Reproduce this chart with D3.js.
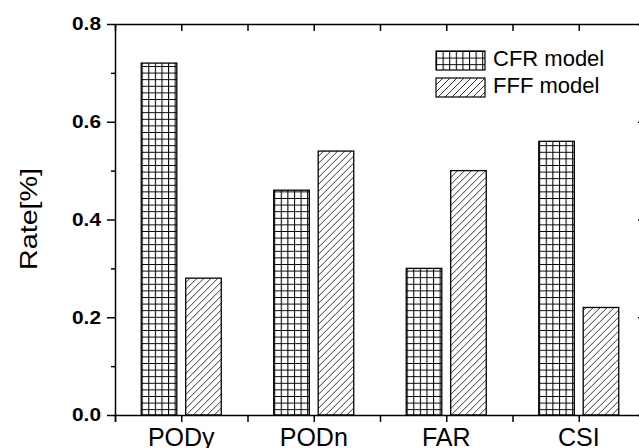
<!DOCTYPE html>
<html lang="en">
<head>
<meta charset="UTF-8">
<title>Rate by index</title>
<script src="https://d3js.org/d3.v7.min.js"></script>
<style>
  body { margin: 0; background: #fff; }
  svg { display: block; font-family: "Liberation Sans", Arial, sans-serif; }
</style>
</head>
<body>
<div id="chart"></div>
<script>
    // data
    const categories = ["PODy", "PODn", "FAR", "CSI"];
    const seriesNames = ["CFR model", "FFF model"];
    const cfrValues = [0.72, 0.46, 0.30, 0.56];
    const fffValues = [0.28, 0.54, 0.50, 0.22];
    const yMajorTicks = [0.0, 0.2, 0.4, 0.6, 0.8];
    const yMinorTicks = [0.1, 0.3, 0.5, 0.7];

    const width = 639, height = 448;
    const plot = { left: 115, right: 645, top: 24, bottom: 415 };
    const font = "Liberation Sans, Arial, sans-serif";

    const svg = d3.select("#chart").append("svg")
        .attr("width", width)
        .attr("height", height);

    // hatch patterns
    const defs = svg.append("defs");
    const grid = defs.append("pattern")
        .attr("id", "grid")
        .attr("patternUnits", "userSpaceOnUse")
        .attr("width", 6.6).attr("height", 6.6);
    grid.append("rect").attr("width", 6.6).attr("height", 6.6).attr("fill", "#fff");
    grid.append("path")
        .attr("d", "M0,0.5H6.6M0.5,0V6.6")
        .attr("stroke", "#000").attr("stroke-width", 1.1);

    const diag = defs.append("pattern")
        .attr("id", "diag")
        .attr("patternUnits", "userSpaceOnUse")
        .attr("width", 7).attr("height", 7);
    diag.append("rect").attr("width", 7).attr("height", 7).attr("fill", "#fff");
    diag.append("path")
        .attr("d", "M-1,8L8,-1M-1,1L1,-1M6,8L8,6")
        .attr("stroke", "#000").attr("stroke-width", 0.8);

    const fills = ["url(#grid)", "url(#diag)"];

    const x = d3.scaleBand()
        .domain(categories)
        .range([plot.left, plot.right])
        .padding(0);

    const xSub = d3.scaleBand()
        .domain(seriesNames)
        .range([-40, 40])
        .paddingInner(0.2);

    const xTicks = d3.scaleLinear()
        .domain([0, categories.length])
        .range([plot.left, plot.right]);

    const y = d3.scaleLinear()
        .domain([0, 0.8])
        .range([plot.bottom, plot.top]);

    const rows = categories.map((c, i) => ({ cat: c, vals: [cfrValues[i], fffValues[i]] }));

    // bars
    const groups = svg.append("g").selectAll("g")
        .data(rows)
        .join("g")
        .attr("transform", d => `translate(${x(d.cat) + x.bandwidth() / 2},0)`);

    groups.selectAll("rect")
        .data(d => d.vals.map((v, i) => ({ name: seriesNames[i], v: v, i: i })))
        .join("rect")
        .attr("x", d => xSub(d.name))
        .attr("width", xSub.bandwidth())
        .attr("y", d => y(d.v))
        .attr("height", d => y(0) - y(d.v))
        .attr("fill", d => fills[d.i])
        .attr("stroke", "#000")
        .attr("stroke-width", 1.3);

    const halfSteps = d3.range(0, categories.length + 0.01, 0.5);

    // bottom axis ticks + labels
    svg.append("g")
        .attr("transform", `translate(0,${plot.bottom})`)
        .call(d3.axisBottom(xTicks).tickValues(halfSteps).tickSize(7).tickFormat(""))
        .call(g => g.selectAll("line,path").attr("stroke-width", 1.5));

    svg.append("g")
        .attr("transform", `translate(0,${plot.bottom})`)
        .call(d3.axisBottom(x).tickSize(0).tickPadding(13))
        .call(g => g.select(".domain").remove())
        .call(g => g.attr("font-size", 25).attr("font-family", font));

    // top axis, ticks inward
    svg.append("g")
        .attr("transform", `translate(0,${plot.top})`)
        .call(d3.axisBottom(xTicks).tickValues(halfSteps).tickSize(7).tickSizeOuter(0).tickFormat(""))
        .call(g => g.selectAll("line,path").attr("stroke-width", 1.5));

    // left axis
    svg.append("g")
        .attr("transform", `translate(${plot.left},0)`)
        .call(d3.axisLeft(y).tickValues(yMajorTicks).tickSize(8).tickSizeOuter(0).tickPadding(6).tickFormat(d3.format(".1f")))
        .call(g => g.selectAll("line,path").attr("stroke-width", 1.5))
        .call(g => g.attr("font-size", 18).attr("font-weight", "bold").attr("font-family", font))
        .call(g => g.selectAll("text")
            .attr("textLength", 29)
            .attr("lengthAdjust", "spacingAndGlyphs"));

    svg.append("g")
        .attr("transform", `translate(${plot.left},0)`)
        .call(d3.axisLeft(y).tickValues(yMinorTicks).tickSize(4).tickFormat(""))
        .call(g => g.select(".domain").remove())
        .call(g => g.selectAll("line").attr("stroke-width", 1.5));

    // right axis, ticks inward
    svg.append("g")
        .attr("transform", `translate(${plot.right},0)`)
        .call(d3.axisLeft(y).tickValues(yMajorTicks).tickSize(7).tickSizeOuter(0).tickFormat(""))
        .call(g => g.selectAll("line,path").attr("stroke-width", 1.5));

    // y title
    svg.append("text")
        .attr("transform", "translate(37,219) rotate(-90)")
        .attr("text-anchor", "middle")
        .attr("font-size", 24)
        .attr("font-family", font)
        .attr("textLength", 102)
        .attr("lengthAdjust", "spacingAndGlyphs")
        .text("Rate[%]");

    // legend
    const legend = svg.append("g")
        .attr("transform", "translate(436,51)");

    const items = legend.selectAll("g")
        .data(seriesNames)
        .join("g")
        .attr("transform", (d, i) => `translate(0,${i * 27})`);

    items.append("rect")
        .attr("width", 49)
        .attr("height", 19)
        .attr("fill", (d, i) => fills[i])
        .attr("stroke", "#000")
        .attr("stroke-width", 1.2);

    items.append("text")
        .attr("x", 57)
        .attr("y", 15)
        .attr("font-size", 22)
        .attr("font-family", font)
        .text(d => d);
</script>
</body>
</html>
